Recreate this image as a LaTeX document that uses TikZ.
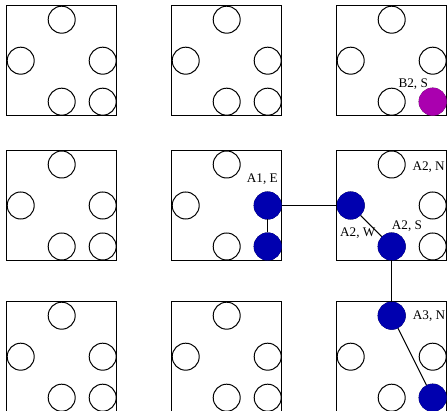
\documentclass[tikz,border=0pt]{standalone}
\usepackage{fontspec}
\setmainfont{Liberation Serif}
\definecolor{slotblue}{RGB}{0, 0, 175}
\definecolor{slotmag}{RGB}{170, 0, 175}
\usetikzlibrary{positioning}

\begin{document}
\begin{tikzpicture}[x=1pt, y=-1pt,
    cell/.style={draw, line width=1pt},
    slot/.style={draw, circle, line width=1pt, minimum size=27pt, inner sep=0pt},
    taken/.style={slot, draw=slotblue, fill=slotblue},
    lbl/.style={inner sep=0pt, anchor=base west, font=\fontsize{13.2}{15}\selectfont}]
    \useasboundingbox (0,0) rectangle (447,411);
    % Grade de celulas
    \foreach \cx/\col in {6.7/1, 171.7/2, 336.7/3} {
      \foreach \cy/\row in {5.7/1, 150.5/2, 301.7/3} {
        \draw[cell] (\cx,\cy) rectangle ++(110,110);
        \node[slot] (n-\col-\row)  at (\cx+55,\cy+14) {};
        \node[slot] (w-\col-\row)  at (\cx+14,\cy+55) {};
        \node[slot] (e-\col-\row)  at (\cx+96,\cy+55) {};
        \node[slot] (s-\col-\row)  at (\cx+55,\cy+96) {};
        \node[slot] (se-\col-\row) at (\cx+96,\cy+96) {};
      }
    }
    % Posicoes ocupadas
    \node[slot, draw=slotmag, fill=slotmag] (b2s) at (se-3-1) {};
    \node[taken] (a1e)  at (e-2-2)  {};
    \node[taken] (a1se) at (se-2-2) {};
    \node[taken] (a2w)  at (w-3-2)  {};
    \node[taken] (a2s)  at (s-3-2)  {};
    \node[taken] (a3n)  at (n-3-3)  {};
    \node[taken] (a3se) at (se-3-3) {};
    % Caminho
    \draw[line width=1pt] (a1e) -- (a1se);
    \draw[line width=1pt] (a1e) -- (a2w);
    \draw[line width=1pt] (a2w) -- (a2s);
    \draw[line width=1pt] (a2s) -- (a3n);
    \draw[line width=1pt] (a3n) -- (a3se);
    % Rotulos
    \node[lbl] (l-b2s) at (398.3,87.3)  {B2, S};
    \node[lbl] (l-a1e) at (246.7,182.7) {A1, E};
    \node[lbl] (l-a2n) at (412.3,170.7) {A2, N};
    \node[lbl] (l-a2w) at (340,236.7)   {A2, W};
    \node[lbl] (l-a2s) at (391.7,229.3) {A2, S};
    \node[lbl] (l-a3n) at (412.7,319.3) {A3, N};
  \end{tikzpicture}
\end{document}
